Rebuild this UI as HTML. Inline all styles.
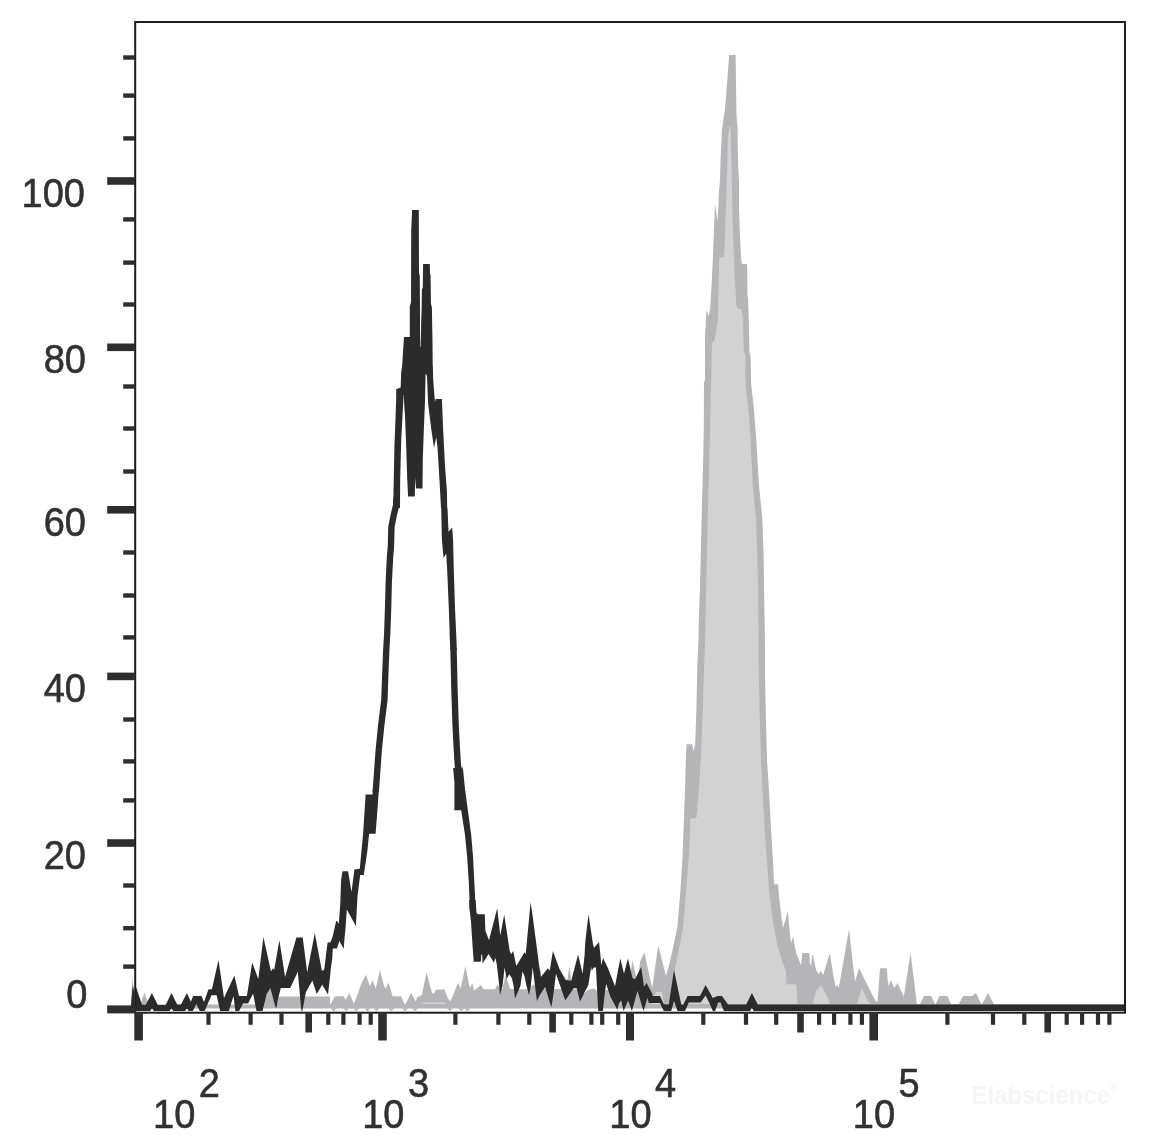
<!DOCTYPE html>
<html><head><meta charset="utf-8"><title>Histogram</title>
<style>
html,body{margin:0;padding:0;background:#fff;}
body{width:1152px;height:1135px;overflow:hidden;font-family:"Liberation Sans",sans-serif;}
svg{display:block;}
svg text{font-family:"Liberation Sans",sans-serif;font-size:40px;fill:#303030;stroke:#303030;stroke-width:0.6px;}
</style></head><body>
<svg width="1152" height="1135" viewBox="0 0 1152 1135">
<rect width="1152" height="1135" fill="#ffffff"/>
<!-- gray filled histogram -->
<polygon points="136.0,1004.6 140.3,1004.6 144.5,992.6 148.7,1004.6 262.0,1004.6 266.0,996.0 270.4,985.0 275.0,999.0 280.0,996.4 330.0,996.4 330.0,1005.0 335.0,996.2 343.8,996.2 345.6,1000.0 349.4,993.1 353.8,1003.8 356.9,996.2 361.2,983.8 366.0,974.8 369.8,986.2 372.5,980.0 375.6,988.8 380.0,970.0 383.8,985.0 385.6,988.8 388.5,982.8 391.2,991.2 392.5,996.2 401.2,996.2 405.0,1005.0 407.5,1000.0 411.2,993.1 415.6,1001.2 417.5,996.9 421.9,995.0 426.5,972.2 431.9,992.5 433.8,993.8 436.2,989.4 444.4,989.4 448.1,998.8 450.6,1001.2 455.0,990.0 458.1,982.8 460.6,988.8 465.4,966.2 469.4,986.2 470.6,987.5 472.2,983.1 474.0,990.0 476.2,989.2 480.6,984.9 483.8,989.2 495.0,989.2 497.8,984.2 500.5,989.2 502.5,989.0 505.6,974.2 510.0,989.0 520.0,989.2 527.5,989.2 533.8,984.2 537.0,989.2 540.0,967.5 541.5,978.4 545.0,989.0 566.0,989.0 569.4,966.1 572.5,989.2 577.5,989.2 583.0,995.0 587.7,990.0 594.7,988.6 600.0,995.0 604.8,990.0 612.7,990.0 618.0,1000.0 626.0,1000.0 632.5,960.5 638.0,985.0 640.0,961.9 644.3,952.3 652.2,987.9 658.2,945.4 666.0,975.8 668.6,967.1 673.0,948.0 677.3,927.2 680.3,892.4 682.5,857.7 683.5,830.0 683.8,822.3 685.1,787.6 686.0,752.8 686.5,744.2 692.1,744.2 693.5,751.1 695.2,744.2 696.4,709.4 697.3,666.0 698.5,640.0 698.7,623.6 699.9,588.9 700.8,554.2 701.6,519.4 702.5,484.7 703.3,455.0 703.8,426.2 704.0,382.5 705.0,380.0 705.0,336.2 706.0,320.0 706.5,310.0 708.8,316.2 710.2,308.8 711.5,286.2 712.8,260.0 714.0,230.0 715.0,203.8 717.5,221.2 718.5,205.0 719.0,191.2 720.0,180.0 720.6,158.8 721.9,130.0 725.0,108.8 727.5,77.5 729.1,55.0 735.6,55.0 736.0,82.5 736.5,115.0 737.5,127.5 738.1,165.0 739.0,181.9 739.0,208.8 740.0,236.2 741.2,260.0 741.9,264.0 746.9,264.0 747.2,267.5 747.5,296.2 748.1,297.5 748.8,321.0 749.4,351.2 750.6,357.5 751.2,385.0 753.8,407.5 756.2,438.8 757.2,455.0 758.9,484.7 762.4,519.4 763.6,554.2 764.1,588.9 764.7,623.6 765.0,647.0 765.0,674.7 765.9,718.1 767.1,761.5 769.3,796.2 771.1,830.0 772.8,857.7 773.8,878.0 774.0,884.2 778.1,884.2 778.8,894.2 781.2,915.5 783.1,928.0 787.8,911.1 790.0,934.2 791.0,943.0 793.1,936.8 796.2,953.0 801.2,965.5 802.2,953.0 809.4,953.0 809.8,963.0 811.0,965.5 812.5,953.6 816.2,970.5 818.8,974.2 820.6,970.5 823.1,974.9 829.8,953.0 833.8,978.0 835.6,986.8 837.2,984.9 838.8,988.0 849.0,929.2 853.1,965.5 855.0,981.8 859.0,968.0 868.8,988.0 875.6,1001.1 877.5,1001.8 878.8,984.2 880.0,968.2 886.9,968.2 887.5,978.0 888.8,986.8 890.6,979.9 894.4,988.0 897.5,983.0 903.8,996.8 910.6,953.0 916.9,1004.2 920.0,1004.2 923.8,996.1 931.2,996.1 935.0,1004.2 935.6,1004.2 939.4,996.1 947.5,996.1 951.2,1004.2 958.8,1004.2 963.1,996.1 971.9,996.1 976.0,993.0 980.6,1003.0 981.9,1004.2 988.1,993.0 993.8,1004.2 1124.0,1004.2 1124.0,1008.6 136.0,1008.6" fill="#b5b5b7" /><polygon points="330.6,1008.3 333.8,1011.3 336.9,1008.3" fill="#b5b5b7" /><polygon points="343.1,1008.3 346.2,1011.3 349.4,1008.3" fill="#b5b5b7" /><polygon points="353.1,1008.3 356.2,1011.3 359.4,1008.3" fill="#b5b5b7" /><polygon points="364.3,1008.3 367.5,1011.3 370.7,1008.3" fill="#b5b5b7" /><polygon points="373.1,1008.3 376.2,1011.3 379.4,1008.3" fill="#b5b5b7" /><polygon points="388.1,1008.3 391.2,1011.3 394.4,1008.3" fill="#b5b5b7" /><polygon points="401.8,1008.3 405.0,1011.3 408.2,1008.3" fill="#b5b5b7" /><polygon points="411.8,1008.3 415.0,1011.3 418.2,1008.3" fill="#b5b5b7" /><polygon points="446.8,1008.3 450.0,1011.3 453.2,1008.3" fill="#b5b5b7" /><polygon points="458.1,1008.3 461.2,1011.3 464.4,1008.3" fill="#b5b5b7" /><polygon points="464.3,1008.3 467.5,1011.3 470.7,1008.3" fill="#b5b5b7" />
<polygon points="729.8,126.2 728.1,135.0 726.9,181.0 725.6,217.5 724.4,250.0 723.8,256.9 719.4,257.5 718.5,280.0 717.8,321.0 714.4,341.0 711.9,342.5 711.2,380.0 710.2,420.0 709.4,455.0 708.6,484.7 707.7,519.4 706.8,562.8 706.0,597.6 705.0,640.0 703.9,674.7 702.5,718.1 701.1,752.8 699.0,787.6 696.4,818.0 690.3,818.8 690.1,830.0 688.6,857.7 686.0,892.4 683.1,927.2 679.1,948.0 674.7,970.6 673.9,979.2 672.0,1004.0 795.0,1004.0 794.5,984.5 786.7,984.5 785.8,970.6 782.4,961.9 777.2,944.5 772.8,920.2 769.3,892.4 766.7,857.7 764.7,830.0 762.9,796.2 761.0,761.5 759.8,718.1 758.9,674.7 758.7,645.0 758.1,588.9 757.2,554.2 756.0,519.4 752.8,484.7 751.2,455.0 750.6,438.8 748.8,413.8 745.6,385.0 745.6,357.5 743.8,351.2 743.1,320.0 741.2,308.8 738.1,308.8 736.2,305.0 735.0,280.0 733.8,255.0 732.5,217.5 731.9,181.0 730.6,127.5" fill="#d2d2d3" />
<polygon points="783.8,1004.0 784.5,984.5 796.5,984.5 797.5,1004.0" fill="#d2d2d3" />
<polygon points="812.5,1004.0 816.5,990.0 821.2,985.5 827.5,996.8 830.0,1004.0" fill="#d2d2d3" />
<polygon points="856.9,1004.0 861.9,988.0 867.5,1000.5 871.2,1004.0" fill="#d2d2d3" />
<polygon points="420.0,1004.0 424.0,1002.5 445.0,1002.5 446.0,1004.0" fill="#d2d2d3" />
<polygon points="652.0,1004.0 656.0,992.0 662.0,992.0 664.0,1004.0" fill="#d2d2d3" />
<!-- black histogram -->
<polygon points="136.0,986.8 141.9,1004.5 145.6,1004.9 151.9,993.0 157.8,1004.9 165.6,1004.9 171.5,993.0 177.2,1004.6 181.0,1004.6 186.9,993.0 190.9,1001.8 193.1,996.1 201.5,996.1 204.0,1002.0 208.5,989.2 211.9,989.2 218.5,959.9 224.0,998.0 234.4,975.5 239.0,996.1 246.9,996.1 252.2,962.4 258.3,979.2 263.4,937.0 271.0,971.4 273.1,968.1 274.1,970.6 279.4,940.2 285.1,976.9 296.4,937.6 302.7,937.6 307.2,972.6 314.8,933.1 321.8,970.6 323.8,970.2 324.5,968.0 330.9,968.0 330.0,976.9 328.0,994.5 322.2,984.7 316.7,994.1 312.4,980.4 305.8,992.5 302.3,1010.9 301.6,1010.9 301.1,1008.1 297.8,971.8 290.2,988.0 280.8,988.0 277.7,1000.3 276.5,1007.7 275.5,1007.0 270.4,988.0 266.7,994.0 262.5,1011.1 256.5,1011.1 253.1,993.6 248.1,1003.4 243.1,1003.4 239.0,1011.1 235.4,1011.1 233.5,996.1 228.8,1011.1 220.2,1011.1 216.6,995.2 211.5,995.2 204.6,1011.1 199.8,1011.1 196.2,1004.0 192.9,1011.1 188.8,1011.1 186.9,1008.6 185.0,1011.1 173.4,1011.1 171.4,1008.6 169.4,1011.1 154.0,1011.1 152.0,1008.6 150.0,1011.1 136.0,1011.1" fill="#2b2b2b" />
<polygon points="324.5,968.0 326.0,955.0 327.6,942.5 330.5,942.3 332.7,936.2 336.2,921.0 337.0,921.0 338.8,923.8 340.3,903.4 341.1,880.0 342.5,871.2 348.1,871.2 351.5,892.0 354.4,869.4 359.8,868.8 363.1,833.8 365.6,794.4 372.5,794.4 372.8,790.0 378.8,790.0 377.8,805.0 375.6,833.8 369.1,833.8 367.5,850.0 363.8,875.0 360.2,875.0 357.5,896.2 355.9,926.0 346.8,909.5 345.5,928.4 344.4,939.4 343.8,948.8 339.3,940.9 337.0,948.4 332.8,948.4 332.3,958.1 330.9,968.0" fill="#2b2b2b" />
<polygon points="378.9,792.2 381.9,750.3 384.4,725.4 387.6,700.3 388.4,675.1 389.4,650.2 390.4,633.1 391.3,608.1 391.9,582.6 393.2,557.7 394.2,545.1 394.6,527.3 396.9,515.7 399.4,505.5 399.8,498.2 393.4,497.8 393.0,504.5 390.7,514.3 388.2,526.7 387.8,544.9 386.8,557.3 385.6,582.4 384.9,607.9 384.1,632.9 383.1,649.8 382.1,674.9 381.2,699.7 378.1,724.6 375.6,749.7 372.5,791.8" fill="#2b2b2b" />
<polygon points="441.2,508.0 441.9,539.2 443.5,558.0 446.2,553.6 447.2,570.5 448.8,608.0 450.2,649.9 456.9,649.9 455.0,608.0 453.8,570.5 453.1,540.5 452.2,527.4 448.5,531.8 447.5,508.0" fill="#2b2b2b" />
<polygon points="450.3,648.1 451.2,687.6 452.4,725.1 453.7,750.2 455.1,772.2 461.5,771.8 460.1,749.8 458.8,724.9 457.6,687.4 456.7,647.9" fill="#2b2b2b" />
<polygon points="453.1,768.0 454.4,782.5 454.4,810.2 461.2,810.2 465.0,835.0 467.2,857.5 468.8,882.5 470.0,912.0 475.6,912.0 475.0,895.0 473.1,857.5 471.2,835.0 467.5,807.5 465.0,788.8 463.1,770.0 461.9,766.0 460.4,771.0 459.5,768.0" fill="#2b2b2b" />
<polygon points="393.1,507.9 393.8,478.5 394.4,447.2 395.6,416.0 396.5,389.1 400.6,389.1 403.5,394.8 402.5,416.0 401.2,441.0 400.2,478.5 400.0,507.9" fill="#2b2b2b" />
<polygon points="402.2,366.0 401.2,372.2 400.6,389.1 403.5,394.8 405.0,416.0 406.2,447.2 407.2,478.5 408.1,496.6 414.8,496.6 415.2,477.2 416.0,488.5 422.5,488.5 422.8,458.5 423.8,431.0 425.0,401.0 425.6,373.5 426.2,372.9 426.9,373.5 428.1,403.5 431.2,428.5 434.0,447.9 436.2,437.2 437.5,447.2 439.4,478.5 441.0,507.9 447.2,507.9 446.9,491.0 445.0,466.0 443.1,428.5 441.9,399.1 435.6,399.1 435.0,402.2 433.5,384.8 432.5,366.0" fill="#2b2b2b" />
<polygon points="411.2,300.0 410.0,307.5 410.0,336.9 404.0,336.9 403.1,350.0 401.9,370.0 401.0,387.5 396.5,389.0 396.5,395.0 403.8,395.0 426.0,373.8 433.5,393.8 432.8,375.0 432.5,343.8 431.9,307.5 430.0,300.0 422.5,300.0 421.5,318.8 420.6,346.9 420.2,346.9 419.8,300.0" fill="#2b2b2b" />
<polygon points="412.1,210.0 411.2,231.2 411.0,303.8 409.8,306.2 409.8,336.9 404.0,336.9 404.0,341.9 420.0,341.9 419.8,276.2 419.0,272.5 418.8,210.0" fill="#2b2b2b" />
<polygon points="423.1,264.1 422.8,287.5 421.9,290.0 421.5,318.8 421.2,341.9 432.1,341.9 431.9,310.0 431.0,308.8 430.6,275.0 430.0,273.8 429.8,264.1" fill="#2b2b2b" />
<polygon points="475.6,900.0 476.5,912.8 478.0,914.2 484.7,914.2 484.8,914.8 485.4,930.8 489.0,940.2 497.2,908.2 500.3,935.5 504.2,914.4 509.7,951.1 511.2,954.2 513.2,951.1 516.3,966.0 524.5,952.3 525.7,954.2 530.6,902.3 532.3,913.6 535.4,937.0 539.0,964.4 540.9,976.9 547.8,968.3 549.8,970.6 552.9,951.1 559.5,969.1 565.8,980.0 571.2,980.8 578.1,954.6 582.6,973.8 584.5,955.8 585.3,941.7 588.5,914.2 592.8,943.0 593.9,948.0 599.0,942.1 600.5,955.8 601.3,965.2 603.1,958.1 608.0,968.3 615.0,986.2 620.3,958.5 624.0,973.8 627.9,958.5 632.5,978.0 635.0,979.2 641.2,966.8 644.0,986.8 646.6,983.0 652.5,994.2 652.5,996.1 660.0,996.1 663.8,1004.2 668.8,1004.5 674.0,969.9 681.2,1004.2 683.1,1004.9 687.5,996.1 700.0,996.1 705.6,984.9 712.8,998.0 717.5,996.1 721.9,996.1 728.1,1004.5 746.2,1004.5 751.9,993.0 757.8,1004.5 1124.0,1004.5 1124.0,1011.1 753.8,1011.1 751.9,1008.0 750.0,1011.1 723.8,1011.1 720.6,1002.4 718.1,1002.4 715.2,1011.1 712.8,1011.1 709.4,1003.0 705.6,995.5 700.6,1002.4 688.8,1002.4 685.0,1011.1 677.5,1011.1 674.0,1001.0 671.2,1011.1 663.8,1011.1 660.0,1003.0 648.8,1003.0 647.5,998.0 643.5,1011.1 637.5,991.1 631.9,1011.1 628.1,1000.5 623.6,1011.1 621.2,1000.3 618.9,1003.4 617.3,1009.7 610.3,996.4 606.2,983.9 604.8,992.5 602.9,1011.1 598.2,1011.1 597.0,988.6 595.9,967.5 593.9,967.5 591.7,970.6 591.2,966.7 588.4,984.7 582.6,996.4 580.0,1001.5 576.7,988.2 573.6,988.2 567.0,998.0 565.2,1000.3 556.0,973.8 552.9,998.0 551.3,1007.3 545.1,987.0 540.0,994.8 536.9,1001.1 535.0,986.0 532.7,967.5 530.8,986.0 529.0,994.9 526.5,986.0 524.5,976.1 522.5,971.4 520.4,986.0 515.0,998.6 513.6,986.0 512.0,978.5 509.3,974.2 506.7,978.9 504.6,967.5 502.5,986.0 500.0,994.9 499.3,986.0 496.8,964.4 495.4,957.8 494.0,962.8 488.6,953.9 482.5,963.6 482.2,954.6 481.4,954.6 480.8,961.7 473.7,961.7 472.5,944.9 471.0,921.4 469.4,908.2 469.2,900.0" fill="#2b2b2b" />
<polygon points="130.9,1006.0 132.6,976.5 134.4,1000.0 134.4,1006.0" fill="#b5b5b7" /><polygon points="130.9,1006.0 132.7,985.5 134.4,992.0 134.4,1006.0" fill="#2b2b2b" />
<!-- frame -->
<rect x="135.2" y="22" width="989.8" height="990.7" fill="none" stroke="#1c1c1c" stroke-width="2"/>
<!-- ticks -->
<rect x="107.2" y="177.2" width="27.8" height="7.6" fill="#2e2e2e"/>
<rect x="107.2" y="343.5" width="27.8" height="7.6" fill="#2e2e2e"/>
<rect x="107.2" y="506.0" width="27.8" height="7.6" fill="#2e2e2e"/>
<rect x="107.2" y="672.6" width="27.8" height="7.6" fill="#2e2e2e"/>
<rect x="107.2" y="839.2" width="27.8" height="7.6" fill="#2e2e2e"/>
<rect x="123.2" y="55.3" width="11.8" height="4.4" fill="#2e2e2e"/>
<rect x="123.2" y="93.4" width="11.8" height="4.4" fill="#2e2e2e"/>
<rect x="123.2" y="136.2" width="11.8" height="4.4" fill="#2e2e2e"/>
<rect x="123.2" y="217.2" width="11.8" height="4.4" fill="#2e2e2e"/>
<rect x="123.2" y="260.4" width="11.8" height="4.4" fill="#2e2e2e"/>
<rect x="123.2" y="302.3" width="11.8" height="4.4" fill="#2e2e2e"/>
<rect x="123.2" y="384.3" width="11.8" height="4.4" fill="#2e2e2e"/>
<rect x="123.2" y="426.3" width="11.8" height="4.4" fill="#2e2e2e"/>
<rect x="123.2" y="469.3" width="11.8" height="4.4" fill="#2e2e2e"/>
<rect x="123.2" y="550.3" width="11.8" height="4.4" fill="#2e2e2e"/>
<rect x="123.2" y="593.3" width="11.8" height="4.4" fill="#2e2e2e"/>
<rect x="123.2" y="635.2" width="11.8" height="4.4" fill="#2e2e2e"/>
<rect x="123.2" y="717.3" width="11.8" height="4.4" fill="#2e2e2e"/>
<rect x="123.2" y="759.2" width="11.8" height="4.4" fill="#2e2e2e"/>
<rect x="123.2" y="798.2" width="11.8" height="4.4" fill="#2e2e2e"/>
<rect x="123.2" y="883.3" width="11.8" height="4.4" fill="#2e2e2e"/>
<rect x="123.2" y="926.0" width="11.8" height="4.4" fill="#2e2e2e"/>
<rect x="123.2" y="964.4" width="11.8" height="4.4" fill="#2e2e2e"/>
<rect x="107.2" y="1005.4" width="28.8" height="8.0" fill="#2e2e2e"/>
<rect x="134.3" y="1012.0" width="8.6" height="28.5" fill="#2e2e2e"/>
<rect x="378.2" y="1012.0" width="8.6" height="28.5" fill="#2e2e2e"/>
<rect x="626.0" y="1012.0" width="8.0" height="28.5" fill="#2e2e2e"/>
<rect x="869.4" y="1012.0" width="8.6" height="28.5" fill="#2e2e2e"/>
<rect x="305.4" y="1012.0" width="6.6" height="20.5" fill="#2e2e2e"/>
<rect x="549.3" y="1012.0" width="6.6" height="20.5" fill="#2e2e2e"/>
<rect x="797.2" y="1012.0" width="6.6" height="20.5" fill="#2e2e2e"/>
<rect x="1044.4" y="1012.0" width="6.6" height="20.5" fill="#2e2e2e"/>
<rect x="206.4" y="1012.0" width="4.2" height="12.8" fill="#2e2e2e"/>
<rect x="248.5" y="1012.0" width="4.2" height="12.8" fill="#2e2e2e"/>
<rect x="279.4" y="1012.0" width="4.2" height="12.8" fill="#2e2e2e"/>
<rect x="326.2" y="1012.0" width="4.2" height="12.8" fill="#2e2e2e"/>
<rect x="341.3" y="1012.0" width="4.2" height="12.8" fill="#2e2e2e"/>
<rect x="357.5" y="1012.0" width="4.2" height="12.8" fill="#2e2e2e"/>
<rect x="368.6" y="1012.0" width="4.2" height="12.8" fill="#2e2e2e"/>
<rect x="453.3" y="1012.0" width="4.2" height="12.8" fill="#2e2e2e"/>
<rect x="496.3" y="1012.0" width="4.2" height="12.8" fill="#2e2e2e"/>
<rect x="527.2" y="1012.0" width="4.2" height="12.8" fill="#2e2e2e"/>
<rect x="569.2" y="1012.0" width="4.2" height="12.8" fill="#2e2e2e"/>
<rect x="589.3" y="1012.0" width="4.2" height="12.8" fill="#2e2e2e"/>
<rect x="600.1" y="1012.0" width="4.2" height="12.8" fill="#2e2e2e"/>
<rect x="616.1" y="1012.0" width="4.2" height="12.8" fill="#2e2e2e"/>
<rect x="701.2" y="1012.0" width="4.2" height="12.8" fill="#2e2e2e"/>
<rect x="743.9" y="1012.0" width="4.2" height="12.8" fill="#2e2e2e"/>
<rect x="774.1" y="1012.0" width="4.2" height="12.8" fill="#2e2e2e"/>
<rect x="817.0" y="1012.0" width="4.2" height="12.8" fill="#2e2e2e"/>
<rect x="832.0" y="1012.0" width="4.2" height="12.8" fill="#2e2e2e"/>
<rect x="848.3" y="1012.0" width="4.2" height="12.8" fill="#2e2e2e"/>
<rect x="859.8" y="1012.0" width="4.2" height="12.8" fill="#2e2e2e"/>
<rect x="945.3" y="1012.0" width="4.2" height="12.8" fill="#2e2e2e"/>
<rect x="990.9" y="1012.0" width="4.2" height="12.8" fill="#2e2e2e"/>
<rect x="1022.2" y="1012.0" width="4.2" height="12.8" fill="#2e2e2e"/>
<rect x="1064.6" y="1012.0" width="4.2" height="12.8" fill="#2e2e2e"/>
<rect x="1080.0" y="1012.0" width="4.2" height="12.8" fill="#2e2e2e"/>
<rect x="1095.9" y="1012.0" width="4.2" height="12.8" fill="#2e2e2e"/>
<rect x="1107.3" y="1012.0" width="4.2" height="12.8" fill="#2e2e2e"/>
<!-- labels -->
<g opacity="0.995">
<text transform="translate(84.9,207) scale(0.95,1)" text-anchor="end">100</text>
<text transform="translate(85.9,373.3) scale(0.95,1)" text-anchor="end">80</text>
<text transform="translate(85.9,535.6) scale(0.95,1)" text-anchor="end">60</text>
<text transform="translate(85.9,702.3) scale(0.95,1)" text-anchor="end">40</text>
<text transform="translate(85.9,869.1) scale(0.95,1)" text-anchor="end">20</text>
<text transform="translate(87.4,1007.6) scale(0.95,1)" text-anchor="end">0</text>
<text transform="translate(153.0,1128) scale(0.95,1)" text-anchor="start">10</text>
<text transform="translate(198.8,1096.9) scale(0.95,1)" text-anchor="start">2</text>
<text transform="translate(362.2,1128) scale(0.95,1)" text-anchor="start">10</text>
<text transform="translate(408.0,1096.9) scale(0.95,1)" text-anchor="start">3</text>
<text transform="translate(609.3,1128) scale(0.95,1)" text-anchor="start">10</text>
<text transform="translate(655.0999999999999,1096.9) scale(0.95,1)" text-anchor="start">4</text>
<text transform="translate(852.8,1128) scale(0.95,1)" text-anchor="start">10</text>
<text transform="translate(898.5999999999999,1096.9) scale(0.95,1)" text-anchor="start">5</text>
</g>
<text transform="translate(971.3,1104) scale(0.905,1)" style="font-size:26.5px;font-weight:bold;fill:#f6f6f6;stroke:none" text-anchor="start">Elabscience<tspan style="font-size:12px" dy="-12">®</tspan></text>
</svg>
</body></html>
